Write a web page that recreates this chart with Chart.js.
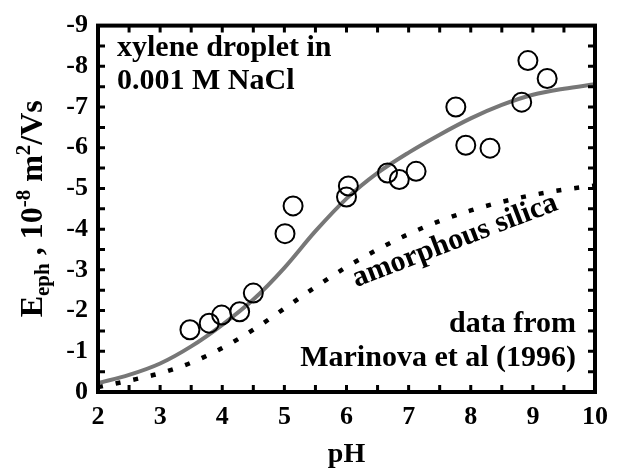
<!DOCTYPE html>
<html>
<head>
<meta charset="utf-8">
<script src="https://cdn.jsdelivr.net/npm/chart.js@4"></script>
<style>
html,body{margin:0;padding:0;background:#fff;}
canvas{display:block;}
</style>
</head>
<body>
<canvas id="c" width="628" height="470"></canvas>
<script>
// measured data (Marinova et al 1996)
const phData  = [3.48, 3.79, 3.99, 4.28, 4.50, 5.01, 5.14, 6.00, 6.03, 6.66, 6.85, 7.12, 7.76, 7.92, 8.31, 8.82, 8.92, 9.23];
const ephData = [-1.53, -1.69, -1.89, -1.97, -2.43, -3.89, -4.57, -4.79, -5.06, -5.38, -5.22, -5.42, -7.00, -6.06, -5.99, -7.12, -8.14, -7.70];
// model curve for xylene droplet (gray solid)
const curvePH = [2, 2.5, 3, 3.5, 4, 4.5, 5, 5.5, 6, 6.5, 7, 7.5, 8, 8.5, 9, 9.5, 10];
const xyleneFit = [-0.22, -0.42, -0.70, -1.12, -1.65, -2.27, -3.05, -3.95, -4.75, -5.38, -5.88, -6.32, -6.72, -7.05, -7.30, -7.45, -7.56];
// amorphous silica (dotted)
const silicaFit = [-0.12, -0.28, -0.46, -0.72, -1.08, -1.53, -2.05, -2.58, -3.07, -3.50, -3.88, -4.20, -4.46, -4.67, -4.84, -4.97, -5.07];
// tick labels
const xTickLabels = ['2', '3', '4', '5', '6', '7', '8', '9', '10'];
const yTickLabels = ['0', '-1', '-2', '-3', '-4', '-5', '-6', '-7', '-8', '-9'];

const FONT = '"Liberation Serif", "Times New Roman", serif';

const framePlugin = {
  id: 'frame',
  afterDatasetsDraw(chart) {
    const {ctx, chartArea: a, scales: {x, y}} = chart;
    ctx.save();
    ctx.strokeStyle = '#000';
    ctx.lineWidth = 3;
    ctx.lineCap = 'butt';
    const tl = 7;
    for (let v = 2; v <= 10.001; v += 0.5) {
      const px = x.getPixelForValue(v);
      ctx.beginPath();
      ctx.moveTo(px, a.bottom); ctx.lineTo(px, a.bottom - tl);
      ctx.moveTo(px, a.top); ctx.lineTo(px, a.top + tl);
      ctx.stroke();
    }
    for (let v = 0; v >= -9.001; v -= 0.5) {
      const py = y.getPixelForValue(v);
      ctx.beginPath();
      ctx.moveTo(a.left, py); ctx.lineTo(a.left + tl, py);
      ctx.moveTo(a.right, py); ctx.lineTo(a.right - tl, py);
      ctx.stroke();
    }
    ctx.lineWidth = 4;
    ctx.strokeRect(a.left, a.top, a.right - a.left, a.bottom - a.top);
    ctx.restore();
  },
  afterDraw(chart) {
    const {ctx, chartArea: a} = chart;
    ctx.save();
    ctx.fillStyle = '#000';
    // annotations
    ctx.font = 'bold 30px ' + FONT;
    ctx.textAlign = 'left';
    ctx.textBaseline = 'alphabetic';
    ctx.fillText('xylene droplet in', 117, 56);
    ctx.fillText('0.001 M NaCl', 117, 89);
    ctx.textAlign = 'right';
    ctx.fillText('data from', 576, 332);
    ctx.fillText('Marinova et al (1996)', 576, 366);
    // amorphous silica rotated
    ctx.save();
    ctx.translate(455, 241);
    ctx.rotate(-21 * Math.PI / 180);
    ctx.textAlign = 'center';
    ctx.textBaseline = 'middle';
    ctx.fillText('amorphous silica', 0, 0);
    ctx.restore();
    // x title
    ctx.font = 'bold 28px ' + FONT;
    ctx.textAlign = 'center';
    ctx.textBaseline = 'alphabetic';
    ctx.fillText('pH', (a.left + a.right) / 2, 462);
    // y title with sub/superscripts
    const big = 'bold 32px ' + FONT, small = 'bold 21px ' + FONT;
    const parts = [
      ['E', big, 0], ['eph', small, 7], [' , 10', big, 0], ['-8', small, -12],
      [' m', big, 0], ['2', small, -12], ['/Vs', big, 0]
    ];
    let total = 0;
    for (const p of parts) { ctx.font = p[1]; total += ctx.measureText(p[0]).width; }
    ctx.save();
    ctx.translate(42, (a.top + a.bottom) / 2);
    ctx.rotate(-Math.PI / 2);
    ctx.textAlign = 'left';
    let cx = -total / 2;
    for (const p of parts) {
      ctx.font = p[1];
      ctx.fillText(p[0], cx, p[2]);
      cx += ctx.measureText(p[0]).width;
    }
    ctx.restore();
    ctx.restore();
  }
};

new Chart(document.getElementById('c'), {
  type: 'scatter',
  data: {
    datasets: [
      {
        label: 'data',
        data: phData.map((v, i) => ({x: v, y: ephData[i]})),
        pointStyle: 'circle',
        pointRadius: 9.5,
        pointBorderWidth: 2,
        pointBorderColor: '#000',
        pointBackgroundColor: 'rgba(0,0,0,0)',
        showLine: false,
        order: 0
      },
      {
        label: 'xylene fit',
        type: 'line',
        data: curvePH.map((v, i) => ({x: v, y: xyleneFit[i]})),
        borderColor: '#777777',
        borderWidth: 4,
        pointRadius: 0,
        cubicInterpolationMode: 'monotone',
        fill: false,
        order: 1
      },
      {
        label: 'amorphous silica',
        type: 'line',
        data: curvePH.map((v, i) => ({x: v, y: silicaFit[i]})),
        borderColor: '#000000',
        borderWidth: 4.5,
        borderDash: [5, 13],
        borderCapStyle: 'butt',
        pointRadius: 0,
        cubicInterpolationMode: 'monotone',
        fill: false,
        order: 2
      }
    ]
  },
  options: {
    responsive: false,
    animation: false,
    devicePixelRatio: 1,
    layout: {padding: {left: 0, top: 18, right: 33, bottom: 0}},
    plugins: {legend: {display: false}, tooltip: {enabled: false}},
    scales: {
      x: {
        type: 'linear', min: 2, max: 10,
        border: {display: false},
        grid: {display: false, drawTicks: false},
        ticks: {
          stepSize: 1, autoSkip: false, padding: 10, color: '#000',
          font: {family: FONT, size: 26, weight: 'bold'},
          callback: (v) => xTickLabels[Math.round(v - 2)] ?? ''
        },
        afterFit: (s) => { s.height = 78; }
      },
      y: {
        type: 'linear', min: -9, max: 0, reverse: true,
        border: {display: false},
        grid: {display: false, drawTicks: false},
        ticks: {
          stepSize: 1, autoSkip: false, padding: 10, color: '#000',
          font: {family: FONT, size: 26, weight: 'bold'},
          callback: (v) => yTickLabels[Math.round(-v)] ?? ''
        },
        afterFit: (s) => { s.width = 98; }
      }
    }
  },
  plugins: [framePlugin]
});
</script>
</body>
</html>
